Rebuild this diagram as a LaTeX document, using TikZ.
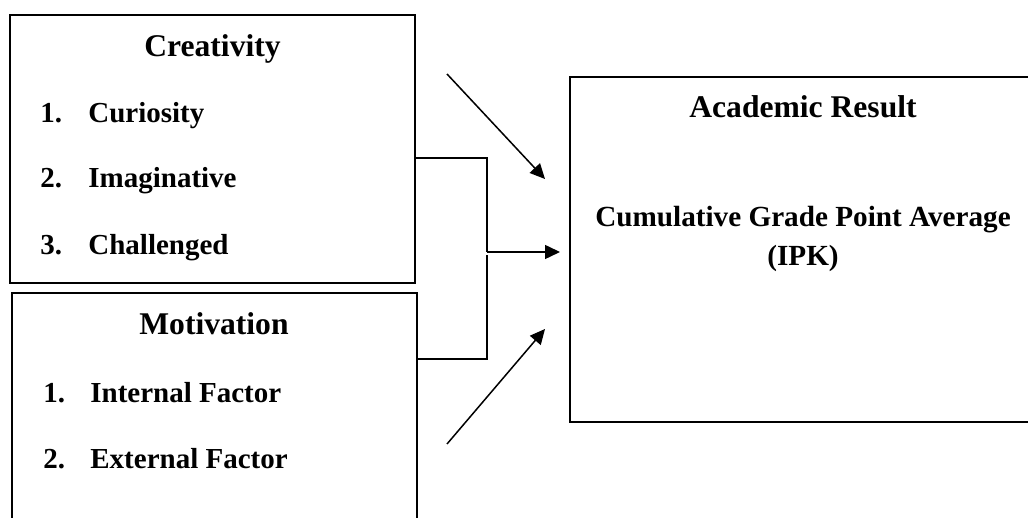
\documentclass[tikz,border=0pt]{standalone}
\usepackage{fontspec}
\setmainfont{Liberation Serif}
\usetikzlibrary{arrows.meta}
\begin{document}
\begin{tikzpicture}[x=0.5pt,y=-0.5pt,
  box/.style={draw,line width=0.9pt,rectangle,inner sep=0pt},
  conn/.style={line width=0.75pt},
  arr/.style={line width=0.75pt,-{Triangle[length=7.5pt,width=7pt]}},
  ttl/.style={anchor=base,inner sep=0pt,font=\fontsize{15.8}{18}\selectfont\bfseries},
  itm/.style={anchor=base west,inner sep=0pt,font=\fontsize{14.5}{17}\selectfont\bfseries},
  ctr/.style={anchor=base,inner sep=0pt,font=\fontsize{14.6}{17}\selectfont\bfseries}]
\useasboundingbox (0,0) rectangle (1028,518);
\clip (0,0) rectangle (1028,518);
% boxes
\node[box,minimum width=202.5pt,minimum height=134pt] (crea) at (212.5,149) {};
\node[box,minimum width=202.5pt,minimum height=140pt] (moti) at (414.5/2+7.25,433) {};
\node[box,minimum width=235pt,minimum height=172.5pt] (acad) at (805,249.5) {};
% creativity text
\node[ttl] (ct) at (212.5,57) {Creativity};
\node[itm] (c1n) at (40,123) {1.};
\node[itm] (c1) at (88,123) {Curiosity};
\node[itm] (c2n) at (40,188) {2.};
\node[itm] (c2) at (88,188) {Imaginative};
\node[itm] (c3n) at (40,255) {3.};
\node[itm] (c3) at (88,255) {Challenged};
% motivation text
\node[ttl] (mt) at (214,335) {Motivation};
\node[itm] (m1n) at (43,402) {1.};
\node[itm] (m1) at (90,402) {Internal Factor};
\node[itm] (m2n) at (43,468) {2.};
\node[itm] (m2) at (90,468) {External Factor};
% academic text
\node[ttl] (at) at (803,118) {Academic Result};
\node[ctr] (cg) at (803,227) {Cumulative Grade Point Average};
\node[ctr] (ipk) at (803,266) {(IPK)};
% connectors
\coordinate (j1) at (487,158);
\coordinate (j2) at (487,252);
\coordinate (j3) at (487,255);
\coordinate (j4) at (487,359);
\coordinate (tip) at (560,252);
\draw[conn] (crea.east |- j1) -- (j1) -- (j2);
\draw[arr] (j2) -- (tip);
\draw[conn] (moti.east |- j4) -- (j4) -- (j3);
\coordinate (d1s) at (447,74);
\coordinate (d1e) at (545,179);
\coordinate (d2s) at (447,444);
\coordinate (d2e) at (545,329);
\draw[arr] (d1s) -- (d1e);
\draw[arr] (d2s) -- (d2e);
\end{tikzpicture}
\end{document}
